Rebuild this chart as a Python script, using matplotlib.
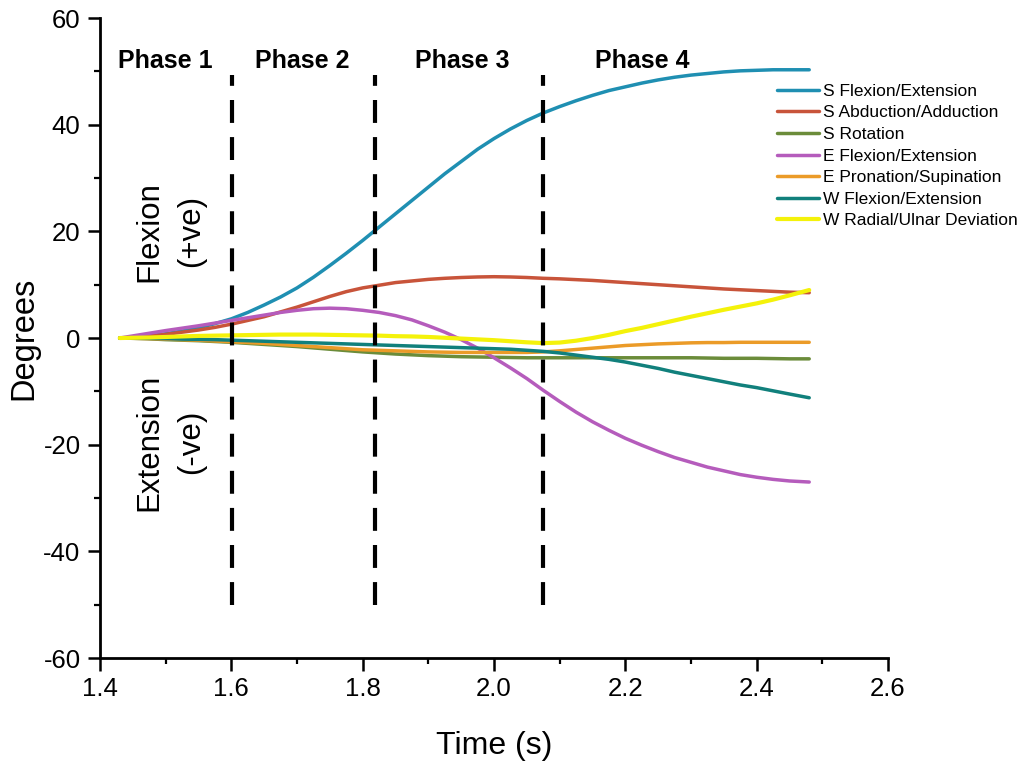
import matplotlib
matplotlib.use("Agg")
import matplotlib.pyplot as plt
from matplotlib.ticker import MultipleLocator

plt.rcParams['font.family'] = ['Liberation Sans', 'DejaVu Sans']
plt.rcParams['axes.unicode_minus'] = False

# joint angle time series (degrees)
time_s = [1.43, 1.45, 1.475, 1.5, 1.525, 1.55, 1.575, 1.6, 1.625, 1.65, 1.675,
          1.7, 1.725, 1.75, 1.775, 1.8, 1.825, 1.85, 1.875, 1.9, 1.925, 1.95,
          1.975, 2.0, 2.025, 2.05, 2.075, 2.1, 2.125, 2.15, 2.175, 2.2, 2.225,
          2.25, 2.275, 2.3, 2.325, 2.35, 2.375, 2.4, 2.425, 2.45, 2.48]

s_flex = [0, 0.1, 0.4, 0.8, 1.3, 1.9, 2.7, 3.6, 4.8, 6.2, 7.7,
          9.4, 11.4, 13.6, 15.9, 18.3, 20.8, 23.3, 25.8, 28.3, 30.8, 33.1,
          35.4, 37.4, 39.2, 40.8, 42.2, 43.4, 44.5, 45.5, 46.4, 47.1, 47.8,
          48.4, 48.9, 49.3, 49.6, 49.9, 50.1, 50.2, 50.3, 50.3, 50.3]
s_abd = [0, 0.1, 0.35, 0.7, 1.1, 1.5, 2.0, 2.6, 3.3, 4.0, 4.9,
         5.8, 6.8, 7.8, 8.7, 9.4, 9.9, 10.4, 10.7, 11.0, 11.2, 11.35,
         11.45, 11.5, 11.45, 11.35, 11.2, 11.1, 10.95, 10.8, 10.6, 10.4, 10.2,
         10.0, 9.8, 9.6, 9.4, 9.2, 9.05, 8.9, 8.75, 8.6, 8.5]
s_rot = [0, -0.05, -0.15, -0.3, -0.4, -0.5, -0.65, -0.8, -1.0, -1.2, -1.4,
         -1.6, -1.85, -2.1, -2.35, -2.6, -2.8, -3.0, -3.15, -3.3, -3.4, -3.5,
         -3.55, -3.6, -3.65, -3.7, -3.7, -3.7, -3.7, -3.7, -3.7, -3.7, -3.7,
         -3.7, -3.7, -3.7, -3.75, -3.8, -3.8, -3.8, -3.85, -3.9, -3.9]
e_flex = [0, 0.4, 0.9, 1.4, 1.85, 2.3, 2.8, 3.3, 3.8, 4.3, 4.8,
          5.2, 5.5, 5.6, 5.5, 5.2, 4.8, 4.2, 3.4, 2.3, 1.1, -0.3,
          -1.9, -3.7, -5.6, -7.6, -9.8, -11.9, -13.9, -15.7, -17.3, -18.8, -20.1,
          -21.3, -22.4, -23.3, -24.2, -24.9, -25.6, -26.1, -26.5, -26.8, -27.0]
e_pron = [0, -0.05, -0.1, -0.2, -0.3, -0.4, -0.55, -0.7, -0.85, -1.0, -1.2,
          -1.4, -1.6, -1.8, -2.0, -2.2, -2.3, -2.4, -2.5, -2.6, -2.65, -2.7,
          -2.7, -2.7, -2.7, -2.7, -2.6, -2.4, -2.15, -1.9, -1.65, -1.4, -1.25,
          -1.1, -1.0, -0.9, -0.85, -0.85, -0.8, -0.8, -0.8, -0.8, -0.8]
w_flex = [0, 0, -0.05, -0.1, -0.2, -0.25, -0.3, -0.4, -0.5, -0.6, -0.7,
          -0.8, -0.9, -1.0, -1.1, -1.2, -1.3, -1.4, -1.5, -1.6, -1.7, -1.8,
          -1.9, -2.0, -2.1, -2.3, -2.5, -2.8, -3.2, -3.6, -4.0, -4.5, -5.1,
          -5.7, -6.4, -7.0, -7.6, -8.2, -8.8, -9.3, -9.9, -10.5, -11.2]
w_rad = [0, 0.05, 0.1, 0.2, 0.3, 0.4, 0.45, 0.5, 0.55, 0.6, 0.65,
         0.65, 0.65, 0.6, 0.55, 0.5, 0.45, 0.35, 0.3, 0.2, 0.05, -0.1,
         -0.25, -0.4, -0.6, -0.8, -0.95, -0.85, -0.5, 0.0, 0.6, 1.3, 1.9,
         2.6, 3.3, 4.0, 4.65, 5.3, 5.9, 6.5, 7.2, 8.0, 9.0]

labels = ["S Flexion/Extension", "S Abduction/Adduction", "S Rotation",
          "E Flexion/Extension", "E Pronation/Supination", "W Flexion/Extension",
          "W Radial/Ulnar Deviation"]
colors = ["#1f8fb2", "#c8543a", "#6b8c3a", "#b55cbc", "#eb9b28", "#11807c", "#f4f20a"]

# phase boundaries and phase label positions
phase_bounds = [1.601, 1.819, 2.075]
phase_names = ["Phase 1", "Phase 2", "Phase 3", "Phase 4"]
phase_centers = [1.50, 1.708, 1.952, 2.226]

fig = plt.figure(figsize=(10.24, 7.61), dpi=100)
ax = fig.add_axes([0.0977, 0.1353, 0.7695, 0.841])

series = [s_flex, s_abd, s_rot, e_flex, e_pron, w_flex, w_rad]
for vals, lab, col in zip(series, labels, colors):
    lw = 3.0 if col == "#f4f20a" else 2.5
    ax.plot(time_s, vals, color=col, lw=lw, label=lab,
            solid_capstyle='round', solid_joinstyle='round')

for xb in phase_bounds:
    ax.plot([xb, xb], [-50, 49.3], color='black', lw=3.0, dashes=(5.5, 3.4), zorder=5)

for name, xc in zip(phase_names, phase_centers):
    ax.text(xc, 51.9, name, ha='center', va='center', fontsize=18, fontweight='bold')

ax.text(1.5066, 20, "Flexion\n(+ve)", rotation=90, ha='center', va='center',
        fontsize=22.5, linespacing=1.5)
ax.text(1.5066, -19.5, "Extension\n(-ve)", rotation=90, ha='center', va='center',
        fontsize=22.5, linespacing=1.5)

ax.set_xlim(1.4, 2.6)
ax.set_ylim(-60, 60)
ax.xaxis.set_major_locator(MultipleLocator(0.2))
ax.xaxis.set_minor_locator(MultipleLocator(0.1))
ax.yaxis.set_major_locator(MultipleLocator(20))
ax.yaxis.set_minor_locator(MultipleLocator(10))
ax.xaxis.set_major_formatter(plt.FuncFormatter(lambda v, p: f"{v:.1f}"))

for side in ['top', 'right']:
    ax.spines[side].set_visible(False)
for side in ['left', 'bottom']:
    ax.spines[side].set_linewidth(2)
ax.tick_params(which='major', direction='out', length=9, width=1.8, labelsize=18.5, pad=5)
ax.tick_params(which='minor', direction='out', length=4.5, width=1.6)

ax.set_xlabel("Time (s)", fontsize=23, labelpad=21)
ax.set_ylabel("Degrees", fontsize=23.5, labelpad=3)

ax.legend(loc='upper left', bbox_to_anchor=(0.759, 0.890), bbox_transform=fig.transFigure,
          frameon=False, fontsize=12.5, handlelength=2.4, handletextpad=0.25,
          labelspacing=0.37, borderpad=0, borderaxespad=0)

fig.savefig("out.png", dpi=100)
